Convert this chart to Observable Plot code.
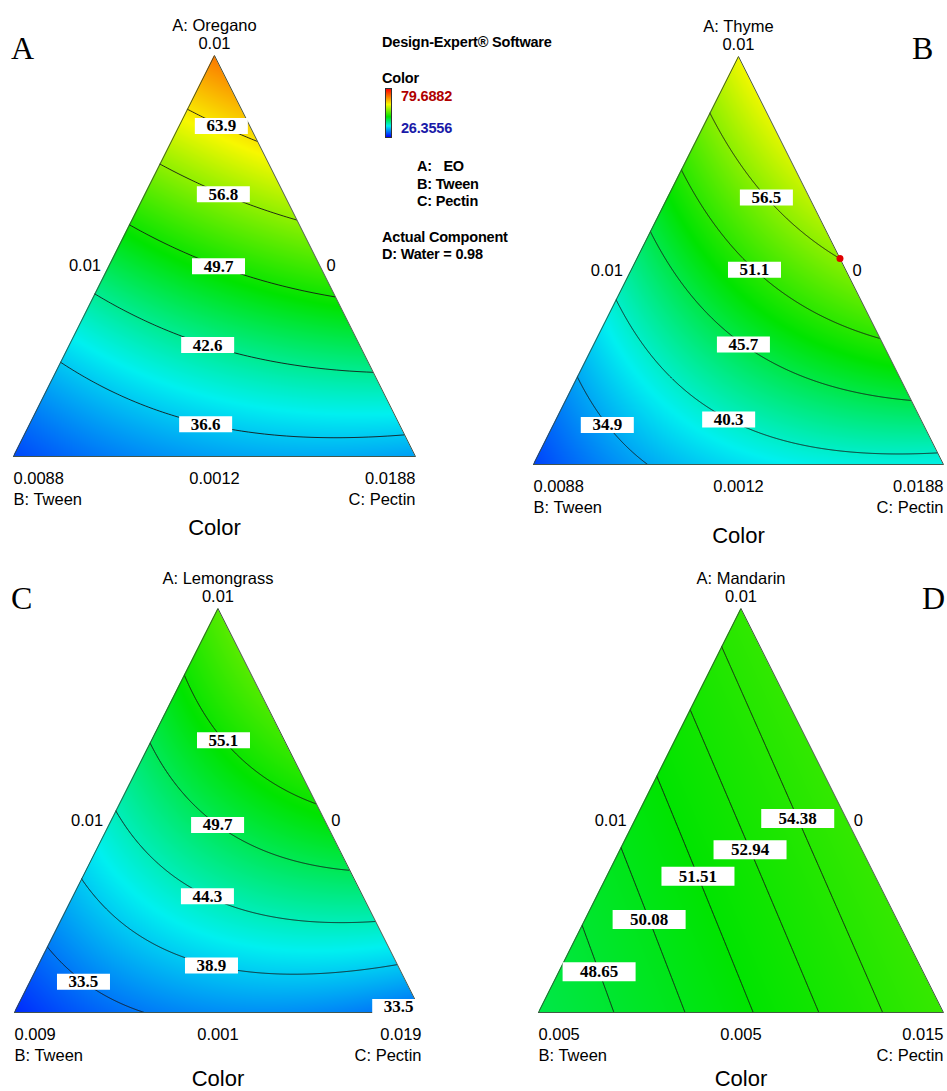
<!DOCTYPE html>
<html><head><meta charset="utf-8">
<script src="https://cdn.jsdelivr.net/npm/d3@7"></script>
<script src="https://cdn.jsdelivr.net/npm/@observablehq/plot@0.6"></script>
<style>
body{margin:0;background:#fff;}
#page{position:relative;width:947px;height:1091px;overflow:hidden;font-family:"Liberation Sans",Arial,sans-serif;}
.panel{position:absolute;}
.letter{position:absolute;font-family:"Liberation Serif","Times New Roman",serif;font-size:32px;line-height:1;color:#000;}
.lg{position:absolute;font-weight:bold;font-size:14.5px;line-height:1;letter-spacing:-0.2px;white-space:pre;color:#000;}
</style></head><body><div id="page"></div>
<script>
// ---------------- DATA ----------------
const colorRange = [26.3556, 79.6882];          // legend range (panels A, B)
const lemongrassColorRange = [25.6, 93.9];      // estimated range for panel C (legend not shown)
const mandarinColorRange = [20, 95];            // estimated range for panel D (legend not shown)
const colorStops = ["#0000ff", "#00f0f0", "#00e400", "#f8f800", "#ff0000"];
const colorStopPositions = [0, 0.23, 0.42, 0.68, 1];
const panelLetters = ["A", "B", "C", "D"];
const panelTitles = ["A: Oregano", "A: Thyme", "A: Lemongrass", "A: Mandarin"];
const apexTicks = ["0.01", "0.01", "0.01", "0.01"];
const leftTicks = ["0.01", "0.01", "0.01", "0.01"];
const rightTicks = ["0", "0", "0", "0"];
const tweenTicks = ["0.0088", "0.0088", "0.009", "0.005"];
const midTicks = ["0.0012", "0.0012", "0.001", "0.005"];
const pectinTicks = ["0.0188", "0.0188", "0.019", "0.015"];
const bAxisTitle = "B: Tween";
const cAxisTitle = "C: Pectin";
const responseTitle = "Color";

// Scheffé quadratic model coefficients (pseudo-components) [A, B, C, AB, AC, BC], estimated from the contours
const oreganoCoef = [71.5, 30, 34.5, -17.5, 2, 9];
const thymeCoef = [62.3, 29.7, 39, -10.6, 23, 13];
const lemongrassCoef = [60.4, 28.3, 32, 0, 33.8, 18.5];
const mandarinCoef = [55.3, 47.2, 55.8, -1.75, 0, -1];

// Contour label values (one entry per printed label)
const oreganoLabels = [63.9, 56.8, 49.7, 42.6, 36.6];
const thymeLabels = [56.5, 51.1, 45.7, 40.3, 34.9];
const lemongrassLabels = [55.1, 49.7, 44.3, 38.9, 33.5, 33.5];
const mandarinLabels = [54.38, 52.94, 51.51, 50.08, 48.65];

// Design point shown in Thyme panel (a, b, c pseudo-components)
const thymeDesignPoint = [0.505, 0, 0.495];

// Legend texts
const legendTitle = "Design-Expert\u00AE Software";
const legendResponse = "Color";
const legendHigh = "79.6882";
const legendLow = "26.3556";
const legendComponents = ["A:   EO", "B: Tween", "C: Pectin"];
const legendActual = ["Actual Component", "D: Water = 0.98"];

// ---------------- LAYOUT (positions / sizes) ----------------
// label guides: for vertical search the across-base fraction, for horizontal search the height fraction
const labelGuide = [
  {dir: "v", at: [0.517, 0.522, 0.510, 0.483, 0.478]},
  {dir: "v", at: [0.568, 0.539, 0.512, 0.476, 0.180]},
  {dir: "v", at: [0.5135, 0.499, 0.474, 0.484, 0.1695, 0.944]},
  {dir: "u", at: [0.480, 0.403, 0.337, 0.230, 0.101]}
];
const layout = [
  {left: 0,   top: 0,   width: 473, height: 552, mL: 13, mR: 58, mT: 55, mB: 96, boxW: 53, boxH: 16, colorDy: 71},
  {left: 473, top: 0,   width: 474, height: 552, mL: 60, mR: 4,  mT: 56, mB: 88, boxW: 53, boxH: 16, colorDy: 71},
  {left: 0,   top: 545, width: 473, height: 546, mL: 14, mR: 52, mT: 63, mB: 79, boxW: 53, boxH: 16, colorDy: 66},
  {left: 473, top: 545, width: 474, height: 546, mL: 65, mR: 4,  mT: 63, mB: 79, boxW: 73, boxH: 19, colorDy: 66}
];
const letterPos = [[11, 32], [912, 32], [11, 582], [922, 582]];
const maskPad = 0.03;

// ---------------- MODEL ----------------
const coefs = [oreganoCoef, thymeCoef, lemongrassCoef, mandarinCoef];
const labelSets = [oreganoLabels, thymeLabels, lemongrassLabels, mandarinLabels];
const colorDomains = [colorRange, colorRange, lemongrassColorRange, mandarinColorRange];

// ternary layout: B bottom-left (0,0), C bottom-right (1,0), A apex (0.5,1)
const vB = {x: 0, y: 0}, vC = {x: 1, y: 0}, vA = {x: 0.5, y: 1};
function response(coef, x, y) {
  const a = y, c = x - y / 2, b = 1 - x - y / 2;
  const [A, B, C, AB, AC, BC] = coef;
  return A * a + B * b + C * c + AB * a * b + AC * a * c + BC * b * c;
}
function bisect(g, lo0, hi0) {
  const n = 400;
  let v0 = lo0, g0 = g(lo0);
  for (let i = 1; i <= n; i++) {
    const v1 = lo0 + (hi0 - lo0) * i / n, g1 = g(v1);
    if (g0 * g1 <= 0) {
      let lo = v0, hi = v1;
      for (let k = 0; k < 40; k++) { const m = (lo + hi) / 2; if (g(lo) * g(m) <= 0) hi = m; else lo = m; }
      return (lo + hi) / 2;
    }
    v0 = v1; g0 = g1;
  }
  return (lo0 + hi0) / 2;
}
function labelPoint(coef, level, dir, at) {
  if (dir === "v") {
    const vmax = Math.min(2 * at, 2 - 2 * at);
    return {x: at, y: bisect(v => response(coef, at, v) - level, 0, vmax)};
  }
  return {x: bisect(u => response(coef, u, at) - level, at / 2, 1 - at / 2), y: at};
}
const stopScale = d3.scaleLinear().domain(colorStopPositions).range(colorStops).interpolate(d3.interpolateRgb).clamp(true);
const interp = t => stopScale(t);
const boxSymbol = (w, h) => ({draw(ctx) { ctx.rect(-w / 2, -h / 2, w, h); }});

const page = document.getElementById("page");
const sans = "Liberation Sans, Arial, sans-serif";
const serif = "Liberation Serif, Times New Roman, serif";

layout.forEach((L, i) => {
  const coef = coefs[i];
  const f = (x, y) => response(coef, x, y);
  const levels = Array.from(new Set(labelSets[i])).sort((a, b) => a - b);
  const guide = labelGuide[i];
  const labelData = labelSets[i].map((val, k) => ({...labelPoint(coef, val, guide.dir, guide.at[k]), text: String(val)}));
  const top = vA.y + maskPad;
  const leftMask = [{x: vB.x - maskPad, y1: vB.y, y2: top}, {x: vB.x, y1: vB.y, y2: top}, {x: vA.x, y1: vA.y, y2: top}];
  const rightMask = [{x: vA.x, y1: vA.y, y2: top}, {x: vC.x, y1: vC.y, y2: top}, {x: vC.x + maskPad, y1: vC.y, y2: top}];
  const sideV = 0.475;
  const txt = {fontSize: 16.5, fontFamily: sans, fill: "#000"};
  const marks = [
    Plot.raster({fill: f, x1: 0, y1: 0, x2: 1, y2: 1, pixelSize: 1}),
    Plot.contour({value: f, x1: -0.05, y1: -0.05, x2: 1.05, y2: 1.05, thresholds: levels, stroke: "#151515", strokeWidth: 0.9, fill: "none", pixelSize: 1, clip: true}),
    Plot.areaY(leftMask, {x: "x", y1: "y1", y2: "y2", fill: "white"}),
    Plot.areaY(rightMask, {x: "x", y1: "y1", y2: "y2", fill: "white"}),
    Plot.line([vB, vC, vA, vB], {x: "x", y: "y", stroke: "#3a4a3a", strokeWidth: 0.9}),
    Plot.dot(labelData, {x: "x", y: "y", symbol: boxSymbol(L.boxW, L.boxH), r: 5, fill: "white", stroke: "none"}),
    Plot.text(labelData, {x: "x", y: "y", text: "text", fontFamily: serif, fontWeight: "bold", fontSize: 17, fill: "#000"}),
    Plot.text([{x: vA.x, y: vA.y, t: panelTitles[i]}], {x: "x", y: "y", text: "t", dy: -30, ...txt}),
    Plot.text([{x: vA.x, y: vA.y, t: apexTicks[i]}], {x: "x", y: "y", text: "t", dy: -12, ...txt}),
    Plot.text([{x: sideV / 2, y: sideV, t: leftTicks[i]}], {x: "x", y: "y", text: "t", dx: -24, ...txt}),
    Plot.text([{x: 1 - sideV / 2, y: sideV, t: rightTicks[i]}], {x: "x", y: "y", text: "t", dx: 11, ...txt}),
    Plot.text([{x: vB.x, y: vB.y, t: tweenTicks[i]}], {x: "x", y: "y", text: "t", dy: 22, textAnchor: "start", ...txt}),
    Plot.text([{x: 0.5, y: 0, t: midTicks[i]}], {x: "x", y: "y", text: "t", dy: 22, ...txt}),
    Plot.text([{x: vC.x, y: vC.y, t: pectinTicks[i]}], {x: "x", y: "y", text: "t", dy: 22, textAnchor: "end", ...txt}),
    Plot.text([{x: vB.x, y: vB.y, t: bAxisTitle}], {x: "x", y: "y", text: "t", dy: 43, textAnchor: "start", ...txt}),
    Plot.text([{x: vC.x, y: vC.y, t: cAxisTitle}], {x: "x", y: "y", text: "t", dy: 43, textAnchor: "end", ...txt}),
    Plot.text([{x: 0.5, y: 0, t: responseTitle}], {x: "x", y: "y", text: "t", dy: L.colorDy, fontSize: 22, fontFamily: sans, fill: "#000"})
  ];
  if (i === 1) {
    const [a, b, c] = thymeDesignPoint;
    marks.push(Plot.dot([{x: c + a / 2, y: a}], {x: "x", y: "y", r: 3.5, fill: "#e00000", stroke: "none"}));
  }
  const svg = Plot.plot({
    width: L.width, height: L.height,
    marginLeft: L.mL, marginRight: L.mR, marginTop: L.mT, marginBottom: L.mB,
    style: {background: "transparent", overflow: "visible"},
    x: {domain: [0, 1], axis: null},
    y: {domain: [0, 1], axis: null},
    color: {type: "linear", domain: colorDomains[i], interpolate: interp, clamp: true},
    marks
  });
  svg.classList.add("panel");
  svg.style.left = L.left + "px";
  svg.style.top = L.top + "px";
  page.appendChild(svg);
});

// panel letters
panelLetters.forEach((t, i) => {
  const d = document.createElement("div");
  d.className = "letter";
  d.textContent = t;
  d.style.left = letterPos[i][0] + "px";
  d.style.top = letterPos[i][1] + "px";
  page.appendChild(d);
});

// legend
function lg(text, left, cy, color) {
  const d = document.createElement("div");
  d.className = "lg";
  d.textContent = text;
  d.style.left = left + "px";
  d.style.top = (cy - 8) + "px";
  if (color) d.style.color = color;
  page.appendChild(d);
}
lg(legendTitle, 382, 43);
lg(legendResponse, 382, 79);
const bar = document.createElement("div");
bar.style.cssText = "position:absolute;left:385px;top:88px;width:5px;height:48px;border:1px solid #333;background:linear-gradient(to top," +
  colorStops.map((c, k) => c + " " + (colorStopPositions[k] * 100) + "%").join(",") + ");";
page.appendChild(bar);
lg(legendHigh, 401, 97, "#b00000");
lg(legendLow, 401, 129, "#1a1aa8");
legendComponents.forEach((t, k) => lg(t, 417, 167 + 17.5 * k));
lg(legendActual[0], 382, 238);
lg(legendActual[1], 382, 255);
</script></body></html>
